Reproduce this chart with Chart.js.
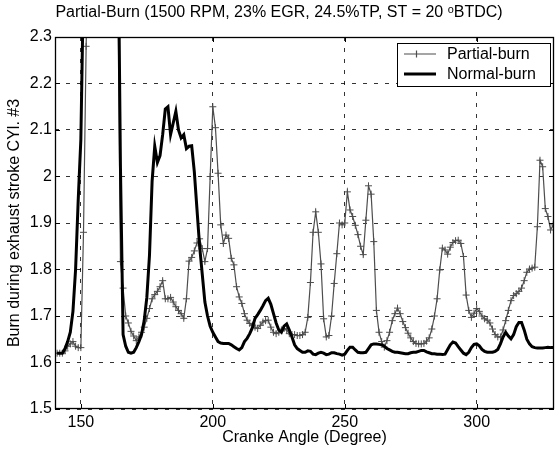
<!DOCTYPE html>
<html>
<head>
<meta charset="utf-8">
<script src="https://cdn.jsdelivr.net/npm/chart.js@4.4.0/dist/chart.umd.min.js"></script>
<style>
  html, body { margin: 0; padding: 0; background: #fff; }
</style>
</head>
<body>
<canvas id="chart" width="559" height="449"></canvas>
<script>
// crank angle samples (deg), one per degree
const angles = [
  141,142,143,144,145,146,147,148,149,150,
  151,152,153,154,155,156,157,158,159,160,
  161,162,163,164,165,166,167,168,169,170,
  171,172,173,174,175,176,177,178,179,180,
  181,182,183,184,185,186,187,188,189,190,
  191,192,193,194,195,196,197,198,199,200,
  201,202,203,204,205,206,207,208,209,210,
  211,212,213,214,215,216,217,218,219,220,
  221,222,223,224,225,226,227,228,229,230,
  231,232,233,234,235,236,237,238,239,240,
  241,242,243,244,245,246,247,248,249,250,
  251,252,253,254,255,256,257,258,259,260,
  261,262,263,264,265,266,267,268,269,270,
  271,272,273,274,275,276,277,278,279,280,
  281,282,283,284,285,286,287,288,289,290,
  291,292,293,294,295,296,297,298,299,300,
  301,302,303,304,305,306,307,308,309,310,
  311,312,313,314,315,316,317,318,319,320,
  321,322,323,324,325,326,327,328,329
];

// values above 2.3 leave the plot (clipped in the original too)
const partialBurn = [
  1.62, 1.62, 1.62, 1.625, 1.635, 1.64, 1.645, 1.635, 1.632, 1.632,
  1.88, 2.28, 2.6, 2.7, 2.75, 2.8, 2.8, 2.75, 2.7, 2.7,
  2.65, 2.6, 2.55, 2.45, 1.817, 1.76, 1.70, 1.685, 1.667, 1.657,
  1.647, 1.655, 1.665, 1.676, 1.695, 1.716, 1.737, 1.746, 1.753, 1.763,
  1.776, 1.737, 1.737, 1.74, 1.73, 1.72, 1.712, 1.705, 1.695, 1.737,
  1.818, 1.826, 1.84, 1.857, 1.866, 1.845, 1.817, 1.845, 2.0, 2.15,
  2.105, 2.007, 1.896, 1.856, 1.874, 1.867, 1.824, 1.81, 1.763, 1.741,
  1.727, 1.705, 1.691, 1.684, 1.68, 1.676, 1.673, 1.68, 1.687, 1.69,
  1.691, 1.676, 1.665, 1.662, 1.665, 1.67, 1.673, 1.67, 1.662, 1.66,
  1.66, 1.658, 1.658, 1.66, 1.665, 1.697, 1.772, 1.88, 1.924, 1.88,
  1.812, 1.694, 1.655, 1.658, 1.70, 1.77, 1.834, 1.90, 1.896, 1.90,
  1.967, 1.928, 1.914, 1.895, 1.875, 1.85, 1.832, 1.906, 1.98, 1.962,
  1.86, 1.712, 1.665, 1.645, 1.633, 1.647, 1.665, 1.69, 1.705, 1.717,
  1.705, 1.688, 1.675, 1.663, 1.653, 1.645, 1.641, 1.64, 1.64, 1.641,
  1.646, 1.653, 1.672, 1.70, 1.737, 1.799, 1.846, 1.842, 1.833, 1.848,
  1.858, 1.862, 1.863, 1.856, 1.828, 1.745, 1.712, 1.697, 1.706, 1.716,
  1.71, 1.70, 1.694, 1.691, 1.685, 1.672, 1.66, 1.655, 1.655, 1.67,
  1.69, 1.712, 1.733, 1.744, 1.748, 1.753, 1.76, 1.776, 1.794, 1.801,
  1.803, 1.805, 1.892, 2.035, 2.021, 1.931, 1.914, 1.885, 1.896
];

const normalBurn = [
  1.62, 1.62, 1.62, 1.63, 1.645, 1.665, 1.71, 1.80, 1.95, 2.08,
  2.42, 2.75, 2.9, 2.95, 2.95, 2.9, 2.9, 2.85, 2.85, 2.8,
  2.8, 2.75, 2.7, 2.6, 2.02, 1.66, 1.635, 1.622, 1.62, 1.622,
  1.632, 1.645, 1.66, 1.69, 1.74, 1.83, 1.99, 2.065, 2.03, 2.045,
  2.09, 2.145, 2.15, 2.09, 2.115, 2.14, 2.10, 2.083, 2.09, 2.06,
  2.065, 2.066, 2.01, 1.93, 1.85, 1.79, 1.73, 1.70, 1.678, 1.665,
  1.655, 1.645, 1.642, 1.641, 1.641, 1.641, 1.638, 1.634, 1.63, 1.627,
  1.632, 1.645, 1.652, 1.662, 1.675, 1.695, 1.703, 1.712, 1.722, 1.733,
  1.738, 1.725, 1.705, 1.685, 1.67, 1.665, 1.678, 1.683, 1.67, 1.655,
  1.638, 1.63, 1.626, 1.622, 1.622, 1.625, 1.624, 1.618, 1.617, 1.62,
  1.622, 1.62, 1.617, 1.618, 1.621, 1.621, 1.619, 1.618, 1.616, 1.618,
  1.626, 1.633, 1.633, 1.627, 1.622, 1.621, 1.621, 1.622, 1.63, 1.638,
  1.64, 1.64, 1.639, 1.638, 1.635, 1.63, 1.627, 1.624, 1.622, 1.622,
  1.621, 1.62, 1.619, 1.619, 1.621, 1.622, 1.622, 1.624, 1.626, 1.626,
  1.623, 1.621, 1.619, 1.619, 1.618, 1.618, 1.617, 1.618, 1.628, 1.638,
  1.644, 1.642, 1.634, 1.627, 1.62, 1.617, 1.622, 1.632, 1.639, 1.64,
  1.636, 1.628, 1.624, 1.622, 1.622, 1.622, 1.624, 1.628, 1.64, 1.655,
  1.665, 1.657, 1.651, 1.66, 1.677, 1.686, 1.686, 1.67, 1.65, 1.64,
  1.634, 1.632, 1.631, 1.631, 1.631, 1.632, 1.633, 1.632, 1.632
];

const xTicks = [150, 200, 250, 300];
const yTicks = [1.5, 1.6, 1.7, 1.8, 1.9, 2.0, 2.1, 2.2, 2.3];

const FONT = "'Liberation Sans', Arial, sans-serif";
const GREY = '#4d4d4d';

// matlab style box, inward ticks and the legend inside the top right
const boxAndLegend = {
  id: 'boxAndLegend',
  afterDraw(chart) {
    const { ctx, chartArea: a, scales } = chart;
    ctx.save();
    ctx.strokeStyle = '#000';
    ctx.lineWidth = 1;
    ctx.setLineDash([]);
    ctx.beginPath();
    xTicks.forEach(v => {
      const px = Math.round(scales.x.getPixelForValue(v)) + 0.5;
      ctx.moveTo(px, a.bottom); ctx.lineTo(px, a.bottom - 5);
      ctx.moveTo(px, a.top); ctx.lineTo(px, a.top + 5);
    });
    yTicks.forEach(v => {
      const py = Math.round(scales.y.getPixelForValue(v)) + 0.5;
      ctx.moveTo(a.left, py); ctx.lineTo(a.left + 5, py);
      ctx.moveTo(a.right, py); ctx.lineTo(a.right - 5, py);
    });
    ctx.stroke();
    ctx.lineWidth = 1.3;
    ctx.strokeRect(a.left + 0.5, a.top + 0.5, a.right - a.left - 1, a.bottom - a.top - 1);

    // legend
    const bx = a.right - 157, by = a.top + 6, bw = 153, bh = 43;
    ctx.fillStyle = '#fff';
    ctx.fillRect(bx, by, bw, bh);
    ctx.lineWidth = 1;
    ctx.strokeRect(bx + 0.5, by + 0.5, bw, bh);
    ctx.font = '16px ' + FONT;
    ctx.textBaseline = 'middle';
    ctx.textAlign = 'left';
    const rows = [
      { label: chart.data.datasets[0].label, y: by + 11, color: GREY, width: 1.2, cross: true },
      { label: chart.data.datasets[1].label, y: by + 31, color: '#000', width: 3, cross: false }
    ];
    rows.forEach(r => {
      ctx.strokeStyle = r.color;
      ctx.lineWidth = r.width;
      ctx.beginPath();
      ctx.moveTo(bx + 7, r.y); ctx.lineTo(bx + 39, r.y);
      if (r.cross) {
        ctx.moveTo(bx + 19.5, r.y - 3.5); ctx.lineTo(bx + 19.5, r.y + 3.5);
        ctx.moveTo(bx + 16, r.y); ctx.lineTo(bx + 23, r.y);
      }
      ctx.stroke();
      ctx.fillStyle = '#000';
      ctx.fillText(r.label, bx + 50, r.y + 1);
    });
    ctx.restore();
  }
};

new Chart(document.getElementById('chart'), {
  type: 'line',
  data: {
    labels: angles,
    datasets: [
      {
        label: 'Partial-burn',
        data: angles.map((a, i) => ({ x: a, y: partialBurn[i] })),
        borderColor: GREY,
        borderWidth: 1.2,
        pointStyle: 'cross',
        pointRadius: 3.5,
        pointBorderWidth: 1,
        pointBorderColor: GREY,
        pointBackgroundColor: GREY,
        tension: 0,
        clip: 0,
        order: 2
      },
      {
        label: 'Normal-burn',
        data: angles.map((a, i) => ({ x: a, y: normalBurn[i] })),
        borderColor: '#000',
        borderWidth: 3,
        pointRadius: 0,
        tension: 0,
        clip: 0,
        order: 1
      }
    ]
  },
  options: {
    responsive: false,
    animation: false,
    devicePixelRatio: 1,
    layout: { padding: { left: 0, right: 1, top: 0, bottom: 0 } },
    plugins: {
      legend: { display: false },
      tooltip: { enabled: false },
      title: {
        display: true,
        text: 'Partial-Burn (1500 RPM, 23% EGR, 24.5%TP, ST = 20 \u1D52BTDC)',
        color: '#000',
        font: { family: FONT, size: 16, weight: 'normal' },
        padding: { top: 3, bottom: 14.8 }
      }
    },
    scales: {
      x: {
        type: 'linear',
        min: 140.2,
        max: 329.3,
        afterBuildTicks: s => { s.ticks = xTicks.map(v => ({ value: v })); },
        afterFit: s => { s.height = 40; },
        ticks: { color: '#000', padding: 4, font: { family: FONT, size: 16 } },
        grid: { color: '#000', lineWidth: 0.8, drawTicks: false },
        border: { display: false, dash: [4, 7] },
        title: {
          display: true,
          text: 'Cranke Angle (Degree)',
          color: '#000',
          font: { family: FONT, size: 16 },
          padding: { top: 0, bottom: 2 }
        }
      },
      y: {
        min: 1.5,
        max: 2.3,
        afterBuildTicks: s => { s.ticks = yTicks.map(v => ({ value: v })); },
        afterFit: s => { s.width = 55; },
        ticks: {
          color: '#000',
          padding: 3,
          font: { family: FONT, size: 16 },
          callback: v => String(Math.round(v * 10) / 10)
        },
        grid: { color: '#000', lineWidth: 0.8, drawTicks: false },
        border: { display: false, dash: [4, 7] },
        title: {
          display: true,
          text: 'Burn during exhaust stroke CYl. #3',
          color: '#000',
          font: { family: FONT, size: 16 },
          padding: { top: 5, bottom: 0 }
        }
      }
    }
  },
  plugins: [boxAndLegend]
});
</script>
</body>
</html>
